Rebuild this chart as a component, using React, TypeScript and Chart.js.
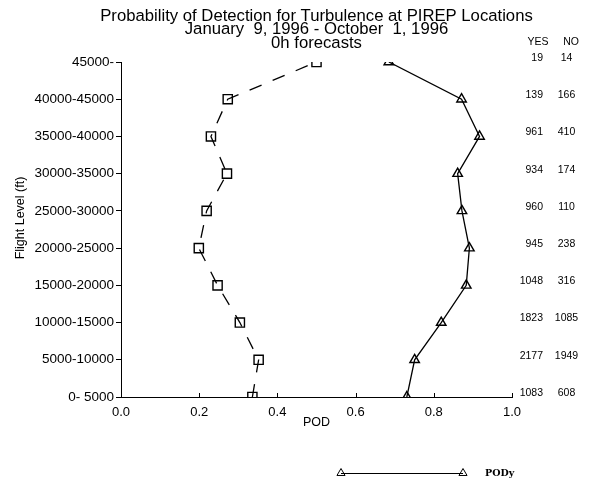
import React, { useEffect, useRef } from "react";
import { Chart, registerables } from "chart.js";

Chart.register(...registerables);

const levelLabels = [
  "0- 5000",
  "5000-10000",
  "10000-15000",
  "15000-20000",
  "20000-25000",
  "25000-30000",
  "30000-35000",
  "35000-40000",
  "40000-45000",
  "45000-",
];
const podY = [0.731, 0.751, 0.819, 0.883, 0.891, 0.872, 0.861, 0.917, 0.871, 0.685];
const podN = [0.336, 0.352, 0.304, 0.247, 0.199, 0.219, 0.271, 0.23, 0.273, 0.5];
const yesCounts = ["1083", "2177", "1823", "1048", "945", "960", "934", "961", "139", "19"];
const noCounts = ["608", "1949", "1085", "316", "238", "110", "174", "410", "166", "14"];
const xTicks = [0, 0.2, 0.4, 0.6, 0.8, 1.0];
const titleLines = [
  "Probability of Detection for Turbulence at PIREP Locations",
  "January  9, 1996 - October  1, 1996",
  "0h forecasts",
];

const SANS = "'Liberation Sans', Arial, sans-serif";

const textPlugin = {
  id: "customText",
  afterDraw(chart: any) {
    const { ctx, chartArea, scales } = chart;
    const xs = scales.x;
    const ys = scales.y;
    ctx.save();
    ctx.fillStyle = "#000";
    ctx.strokeStyle = "#000";
    ctx.lineWidth = 1;
    // inward x ticks
    xTicks.forEach((v) => {
      const px = Math.round(xs.getPixelForValue(v)) + 0.5;
      ctx.beginPath();
      ctx.moveTo(px, chartArea.bottom);
      ctx.lineTo(px, chartArea.bottom - 4);
      ctx.stroke();
    });
    // title
    const cx = (chartArea.left + chartArea.right) / 2;
    ctx.font = `16.7px ${SANS}`;
    ctx.textAlign = "center";
    ctx.textBaseline = "alphabetic";
    titleLines.forEach((t, i) => {
      ctx.fillText(t, cx, 20.5 + i * 13.5);
    });
    // axis titles
    ctx.font = `12.5px ${SANS}`;
    ctx.textBaseline = "middle";
    ctx.fillText("POD", cx, 423);
    ctx.save();
    ctx.translate(21, 218);
    ctx.rotate(-Math.PI / 2);
    ctx.fillText("Flight Level (ft)", 0, 0);
    ctx.restore();
    // YES / NO columns
    ctx.font = `10.5px ${SANS}`;
    ctx.fillText("YES", 538, 42);
    ctx.fillText("NO", 571, 42);
    levelLabels.forEach((_, i) => {
      const py = ys.getPixelForValue(i) - 4;
      ctx.textAlign = "right";
      ctx.fillText(yesCounts[i], 543, py);
      ctx.textAlign = "center";
      ctx.fillText(noCounts[i], 566.5, py);
    });
    // legend
    const ly = 473;
    ctx.beginPath();
    ctx.moveTo(341, ly + 0.5);
    ctx.lineTo(463, ly + 0.5);
    ctx.stroke();
    [341, 463].forEach((x) => {
      const r = 4.5;
      ctx.beginPath();
      ctx.moveTo(x, ly - r);
      ctx.lineTo(x + r * 0.9, ly + r * 0.55);
      ctx.lineTo(x - r * 0.9, ly + r * 0.55);
      ctx.closePath();
      ctx.stroke();
    });
    ctx.font = `bold 9.5px 'DejaVu Serif', serif`;
    ctx.textAlign = "left";
    ctx.fillText("PODy", 485, ly + 1);
    ctx.restore();
  },
};

export default function App() {
  const canvasRef = useRef<HTMLCanvasElement | null>(null);

  useEffect(() => {
    if (!canvasRef.current) return;
    const chart = new Chart(canvasRef.current, {
      type: "scatter",
      data: {
        datasets: [
          {
            label: "PODn",
            data: podN.map((v, i) => ({ x: v, y: i })),
            showLine: true,
            borderColor: "#000",
            borderWidth: 1.3,
            borderDash: [13, 12],
            pointStyle: "rect",
            pointRadius: 6.5,
            pointBorderWidth: 1.4,
            pointBorderColor: "#000",
            pointBackgroundColor: "rgba(0,0,0,0)",
            clip: 0,
          } as any,
          {
            label: "PODy",
            data: podY.map((v, i) => ({ x: v, y: i })),
            showLine: true,
            borderColor: "#000",
            borderWidth: 1.3,
            pointStyle: "triangle",
            pointRadius: 5.5,
            pointBorderWidth: 1.4,
            pointBorderColor: "#000",
            pointBackgroundColor: "rgba(0,0,0,0)",
            clip: 0,
          } as any,
        ],
      },
      options: {
        responsive: false,
        animation: false,
        devicePixelRatio: 1,
        layout: { padding: { left: 0, top: 62, right: 77, bottom: 0 } },
        plugins: {
          legend: { display: false },
          tooltip: { enabled: false },
          title: { display: false },
        },
        scales: {
          x: {
            type: "linear",
            min: 0,
            max: 1,
            afterFit: (s: any) => {
              s.height = 92;
            },
            afterBuildTicks: (s: any) => {
              s.ticks = xTicks.map((v) => ({ value: v }));
            },
            border: { display: true, color: "#000", width: 1 },
            grid: { display: true, drawOnChartArea: false, drawTicks: false, color: "#000" },
            ticks: {
              padding: 8,
              color: "#000",
              font: { family: SANS, size: 13 },
              callback: (v: any) => Number(v).toFixed(1),
            },
          },
          y: {
            type: "linear",
            min: 0,
            max: 9,
            afterFit: (s: any) => {
              s.width = 121;
            },
            afterBuildTicks: (s: any) => {
              s.ticks = levelLabels.map((_, i) => ({ value: i }));
            },
            border: { display: true, color: "#000", width: 1 },
            grid: { display: true, drawOnChartArea: false, drawTicks: true, tickLength: 5, color: "#000" },
            ticks: {
              padding: 2,
              color: "#000",
              font: { family: SANS, size: 13.5 },
              callback: (v: any) => levelLabels[Math.round(Number(v))],
            },
          },
        },
      } as any,
      plugins: [textPlugin],
    });
    return () => chart.destroy();
  }, []);

  return (
    <div style={{ position: "fixed", left: 0, top: 0, width: 589, height: 489, background: "#fff" }}>
      <canvas ref={canvasRef} width={589} height={489} style={{ width: 589, height: 489 }} />
    </div>
  );
}
